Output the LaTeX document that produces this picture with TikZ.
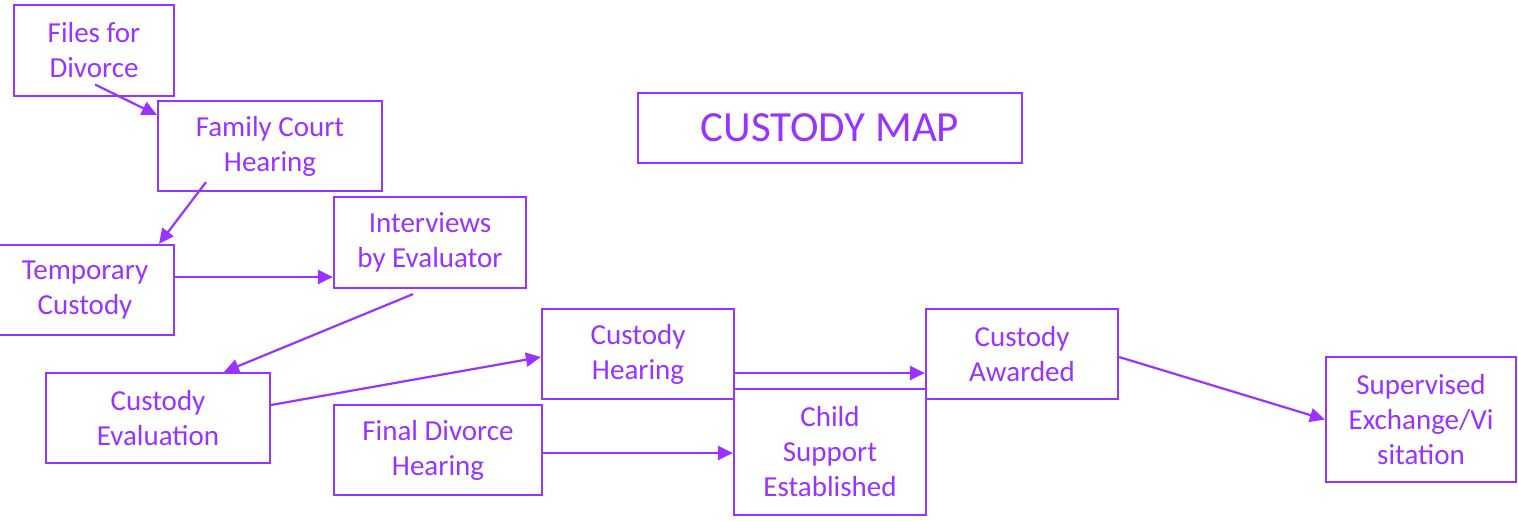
\documentclass[tikz,border=0pt]{standalone}
\usepackage{fontspec}
\setmainfont{Carlito}
\usetikzlibrary{arrows.meta}
\definecolor{mapviolet}{HTML}{9933FF}
\tikzset{
  stage/.style={draw=mapviolet, line width=1.1pt, text=mapviolet, align=center,
    inner sep=0pt, font=\fontsize{14.5pt}{17.5pt}\selectfont},
  flow/.style={draw=mapviolet, line width=1.1pt,
    -{Triangle[length=7.5pt, width=7pt]}, fill=mapviolet}
}
\begin{document}
\begin{tikzpicture}[x=0.5pt, y=-0.5pt]
\useasboundingbox (0,0) rectangle (1518,520);
\fill[white] (0,0) rectangle (1518,520);

% stages of the process
\node[stage, minimum width=80pt,  minimum height=45.5pt] (files)      at (94,50.5)   {Files for\\Divorce};
\node[stage, minimum width=112pt, minimum height=45pt]   (family)     at (270,146)   {Family Court\\Hearing};
\node[stage, minimum width=89pt,  minimum height=45pt]   (temp)       at (85,290)    {Temporary\\Custody};
\node[stage, minimum width=96pt,  minimum height=45.5pt] (interviews) at (430,242.5) {Interviews\\by Evaluator};
\node[stage, minimum width=112pt, minimum height=45pt]   (evaluation) at (158,418)   {Custody\\Evaluation};
\node[stage, minimum width=96pt,  minimum height=45pt]   (hearing)    at (638,354)   {Custody\\Hearing};
\node[stage, minimum width=104pt, minimum height=45pt]   (final)      at (438,450)   {Final Divorce\\Hearing};
\node[stage, minimum width=96pt,  minimum height=63pt]   (support)    at (830,452)   {Child\\Support\\Established};
\node[stage, minimum width=96pt,  minimum height=45pt]   (awarded)    at (1022,354)  {Custody\\Awarded};
\node[stage, minimum width=95pt,  minimum height=62.5pt] (supervised) at (1421,419.5) {Supervised\\Exchange/Vi\\sitation};

% title
\node[stage, minimum width=192pt, minimum height=35pt, font=\fontsize{21.5pt}{25pt}\selectfont]
  (title) at (830,128) {CUSTODY MAP};

% connectors
\draw[flow] ([xshift=0.5pt, yshift=-17pt]files.center) -- ([yshift=-7.5pt]family.north west);
\draw[flow] ([xshift=-32pt, yshift=5pt]family.south) -- ([xshift=37pt]temp.north);
\draw[flow] ([yshift=6.5pt]temp.east) -- ([yshift=-17.25pt]interviews.west);
\draw[flow] ([xshift=-8.5pt, yshift=-2.5pt]interviews.south) -- ([xshift=33pt]evaluation.north);
\draw[flow] ([yshift=6.5pt]evaluation.east) -- ([yshift=-1.5pt]hearing.west);
\draw[flow] ([yshift=-9.5pt]hearing.east) -- ([yshift=-9.5pt]awarded.west);
\draw[flow] ([yshift=-1.5pt]final.east) -- ([yshift=-1.5pt]final.east -| support.west);
\draw[flow] ([yshift=-1.5pt]awarded.east) -- (supervised.west);
\end{tikzpicture}
\end{document}
